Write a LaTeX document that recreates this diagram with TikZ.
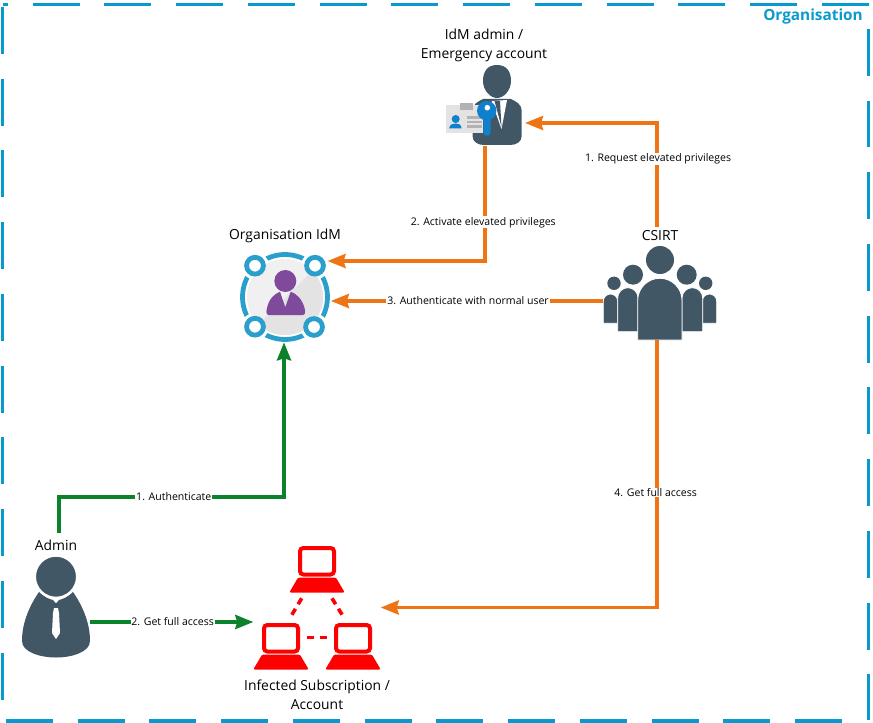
\documentclass[tikz,border=0pt]{standalone}
\usepackage{fontspec}
\setmainfont{Open Sans}
\usetikzlibrary{positioning}
\usetikzlibrary{arrows.meta}
\definecolor{orgblue}{HTML}{0A99CF}
\definecolor{ringblue}{HTML}{2B9FCC}
\definecolor{slate}{HTML}{415766}
\definecolor{flow}{HTML}{EE7414}
\definecolor{okgreen}{HTML}{0C822C}
\definecolor{idmpurple}{HTML}{7F4A9B}
\definecolor{keyblue}{HTML}{0F80CC}
\tikzstyle{iconbox}=[inner sep=0pt,outer sep=0pt]
\tikzstyle{title}=[font=\fontsize{10.4}{14.25}\selectfont,align=center,inner sep=0pt]
\tikzstyle{edgelabel}=[font=\fontsize{7.9}{9}\selectfont,fill=white,inner sep=0.6pt]
\tikzstyle{orgborder}=[draw=orgblue,line width=2.6pt,dash pattern=on 35.2pt off 18.6pt]
\tikzstyle{edgeflow}=[draw=flow,line width=2.7pt,-{Stealth[length=13.5pt,width=10.5pt,inset=1.5pt]}]
\tikzstyle{edgeok}=[draw=okgreen,line width=2.7pt,-{Stealth[length=13.5pt,width=10.5pt,inset=1.5pt]}]
\tikzstyle{redlink}=[draw=red,line width=2.7pt,dash pattern=on 5.2pt off 4pt]
\begin{document}
\begin{tikzpicture}[x=0.75pt,y=-0.75pt]
    \useasboundingbox (0,0) rectangle (873,723);

    % border, one side at a time
    \foreach \xa/\ya/\xb/\yb/\ph in {3/4.5/869/4.5/31.5, 2.5/7/2.5/720/0, 6/721/843/721/0, 868.5/720/868.5/25/1}
        \draw[orgborder, dash phase=\ph pt] (\xa,\ya) -- (\xb,\yb);
    \node[inner sep=0pt, text=orgblue, font=\bfseries\fontsize{11.5}{14}\selectfont] (orglabel) at (813,17) {Organisation};

    % nodes
    \node[iconbox, minimum width=60pt, minimum height=61pt] (idmadmin) at (485,105) {};
    \node[iconbox, minimum width=68pt, minimum height=68pt] (idm) at (285.5,297) {};
    \node[iconbox, minimum width=85.5pt, minimum height=70.5pt] (csirt) at (660,293) {};
    \node[iconbox, minimum width=51pt, minimum height=75pt] (admin) at (56,607) {};
    \node[iconbox, minimum width=95.5pt, minimum height=93pt] (infected) at (317,607.5) {};

    \node[title] (idmadminlabel) at (484,45.5) {IdM admin /\\Emergency account};
    \node[title] (idmlabel) at (285,235.5) {Organisation IdM};
    \node[title] (csirtlabel) at (660,236) {CSIRT};
    \node[title] (adminlabel) at (56,545.5) {Admin};
    \node[title] (infectedlabel) at (317,695) {Infected Subscription /\\Account};

    % admin
    \fill[slate] (39,592) .. controls (44,597) and (49,599) .. (53,600) -- (56,603.5) -- (59,600)
        .. controls (63,599) and (68,597) .. (73,592) .. controls (82,605) and (90,622) .. (90,641)
        .. controls (90,652) and (72,657.5) .. (56,657.5) .. controls (40,657.5) and (22,652) .. (22,641)
        .. controls (22,622) and (30,605) .. (39,592) -- cycle;
    \filldraw[fill=slate, draw=white, line width=1.5pt] (56,576.7) circle (21);
    \fill[white] (54,608) -- (58,608) -- (59,613) -- (60,633) -- (56,639) -- (52,633) -- (53,613) -- cycle;

    % idm admin
    \fill[slate] (483,99) .. controls (478,102) and (472.5,103) .. (472.5,112) -- (472.5,136)
        .. controls (472.5,142) and (478,145) .. (484,145) -- (510,145)
        .. controls (516,145) and (521.7,142) .. (521.7,136) -- (521.7,112)
        .. controls (521.7,103) and (516,102) .. (511,99) -- cycle;
    \fill[slate] (497,65) .. controls (487,65) and (483,72) .. (483,81) .. controls (483,90) and (490,98) .. (497,98)
        .. controls (504,98) and (511,90) .. (511,81) .. controls (511,72) and (507,65) .. (497,65) -- cycle;
    \fill[white] (491.5,101) -- (507,100) -- (501.5,129) -- cycle;
    \fill[slate] (494.5,101) -- (500,101) -- (501.5,127) -- cycle;
    \fill[black!11] (445.7,105) rectangle (483.3,132.7);
    \fill[black!30] (460,103.3) rectangle (473.3,110);
    \fill[keyblue] (455.7,119) circle (4);
    \fill[keyblue] (449,128.5) .. controls (450,124) and (453,123.5) .. (455.7,123.5) .. controls (458.5,123.5) and (461,124) .. (461.7,128.5) -- cycle;
    \foreach \ly in {117.5, 122, 126.5}
        \fill[black!30] (466.7,\ly-1.2) rectangle (482,\ly+1.2);
    \fill[keyblue] (483.3,116) -- (490.7,116) -- (490.7,132) .. controls (490.7,137) and (483.3,137) .. (483.3,132) -- cycle;
    \fill[keyblue] (486.7,110.7) circle (9.7);
    \fill[white] (487.3,107.7) circle (2.8);

    % organisation idm
    \draw[ringblue, line width=3.6pt] (285,297) circle (42.5);
    \foreach \nx/\ny in {255/265.7, 315/265.7, 255/326.7, 314/327}
        \fill[white] (\nx,\ny) circle (14);
    \fill[black!6] (285,297) circle (38);
    \begin{scope}
        \clip (285,297) circle (38);
        \fill[black!11] (325,258) -- (248,335) -- (325,335) -- cycle;
    \end{scope}
    \foreach \nx/\ny in {255/265.7, 315/265.7, 255/326.7, 314/327}
        \filldraw[fill=white, draw=ringblue, line width=3.6pt] (\nx,\ny) circle (8.4);
    \fill[idmpurple] (285.3,281) circle (11);
    \fill[idmpurple] (268.5,315) .. controls (265.5,315) and (266.5,310) .. (267,308)
        .. controls (269,299) and (274,294) .. (280,291.7) -- (285.3,307.3) -- (290.7,291.7)
        .. controls (297,294) and (302,299) .. (304.5,308) .. controls (305,310) and (306,315) .. (303,315) -- cycle;

    % csirt, outer figures first
    \foreach \hx/\hr/\hy/\lx/\wd/\ty/\by in {614/6.7/283.3/603.3/14.4/294/323.3, 705.7/6.7/283.3/702.3/14.4/294/323.3, 633/10/274.7/617.7/20.3/287.7/331.7, 686.7/10/274.7/682/20.7/287.7/331.7, 660/14/260/637.7/44.3/278.3/340} {
        \fill[slate] (\hx,\hy) circle (\hr);
        \filldraw[fill=slate, draw=white, line width=0.6pt] (\lx,\by) -- (\lx,\ty+\wd/2) arc (180:360:\wd/2) -- (\lx+\wd,\by) -- cycle;
    }

    % laptops
    \foreach \lx/\ly in {317/546, 281/623, 353/623} {
        \draw[red, line width=3pt, rounded corners=2.5pt] (\lx-17,\ly+2) rectangle (\lx+17,\ly+28.5);
        \fill[red, rounded corners=1pt] (\lx-18.9,\ly+31.5) -- (\lx+18.9,\ly+31.5) -- (\lx+27.7,\ly+46.5) -- (\lx-27.7,\ly+46.5) -- cycle;
    }
    \draw[redlink] (301.7,598.3) -- (291.7,615);
    \draw[redlink] (332,598.3) -- (342.3,615);
    \draw[redlink] (307.3,637.3) -- (326.7,637.3);

    % bends and free ends of the connectors
    \coordinate (authstart) at (59,533);
    \coordinate (authbenda) at (59,497);
    \coordinate (authbendb) at (284,497);
    \coordinate (fullrow) at (0,622);
    \coordinate (reqstart) at (657,227);
    \coordinate (reqbend) at (657,123);
    \coordinate (actbend) at (485,261);
    \coordinate (normalrow) at (0,301);
    \coordinate (csirtbottom) at (657,340);
    \coordinate (accessbend) at (657,607.5);

    \path[edgeok] (authstart) -- (authbenda) -- node[edgelabel, pos=0.51] (authlabel) {1. Authenticate} (authbendb) -- (idm.south -| authbendb);
    \path[edgeok] (admin.east |- fullrow) -- node[edgelabel, pos=0.506] (fulllabel) {2. Get full access} (infected.west |- fullrow);
    \path[edgeflow] (reqstart) -- node[edgelabel, pos=0.655, xshift=0.8pt] (reqlabel) {1. Request elevated privileges} (reqbend) -- (idmadmin.east |- reqbend);
    \path[edgeflow] (idmadmin.south) -- node[edgelabel, pos=0.665, xshift=-1.3pt] (actlabel) {2. Activate elevated privileges} (actbend) -- ([xshift=-2.5pt]idm.east |- actbend);
    \path[edgeflow] (csirt.west |- normalrow) -- node[edgelabel, pos=0.496] (normallabel) {3. Authenticate with normal user} (idm.east |- normalrow);
    \path[edgeflow] (csirtbottom) -- node[edgelabel, pos=0.57, xshift=-1pt] (accesslabel) {4. Get full access} (accessbend) -- (infected.east);

\end{tikzpicture}
\end{document}
